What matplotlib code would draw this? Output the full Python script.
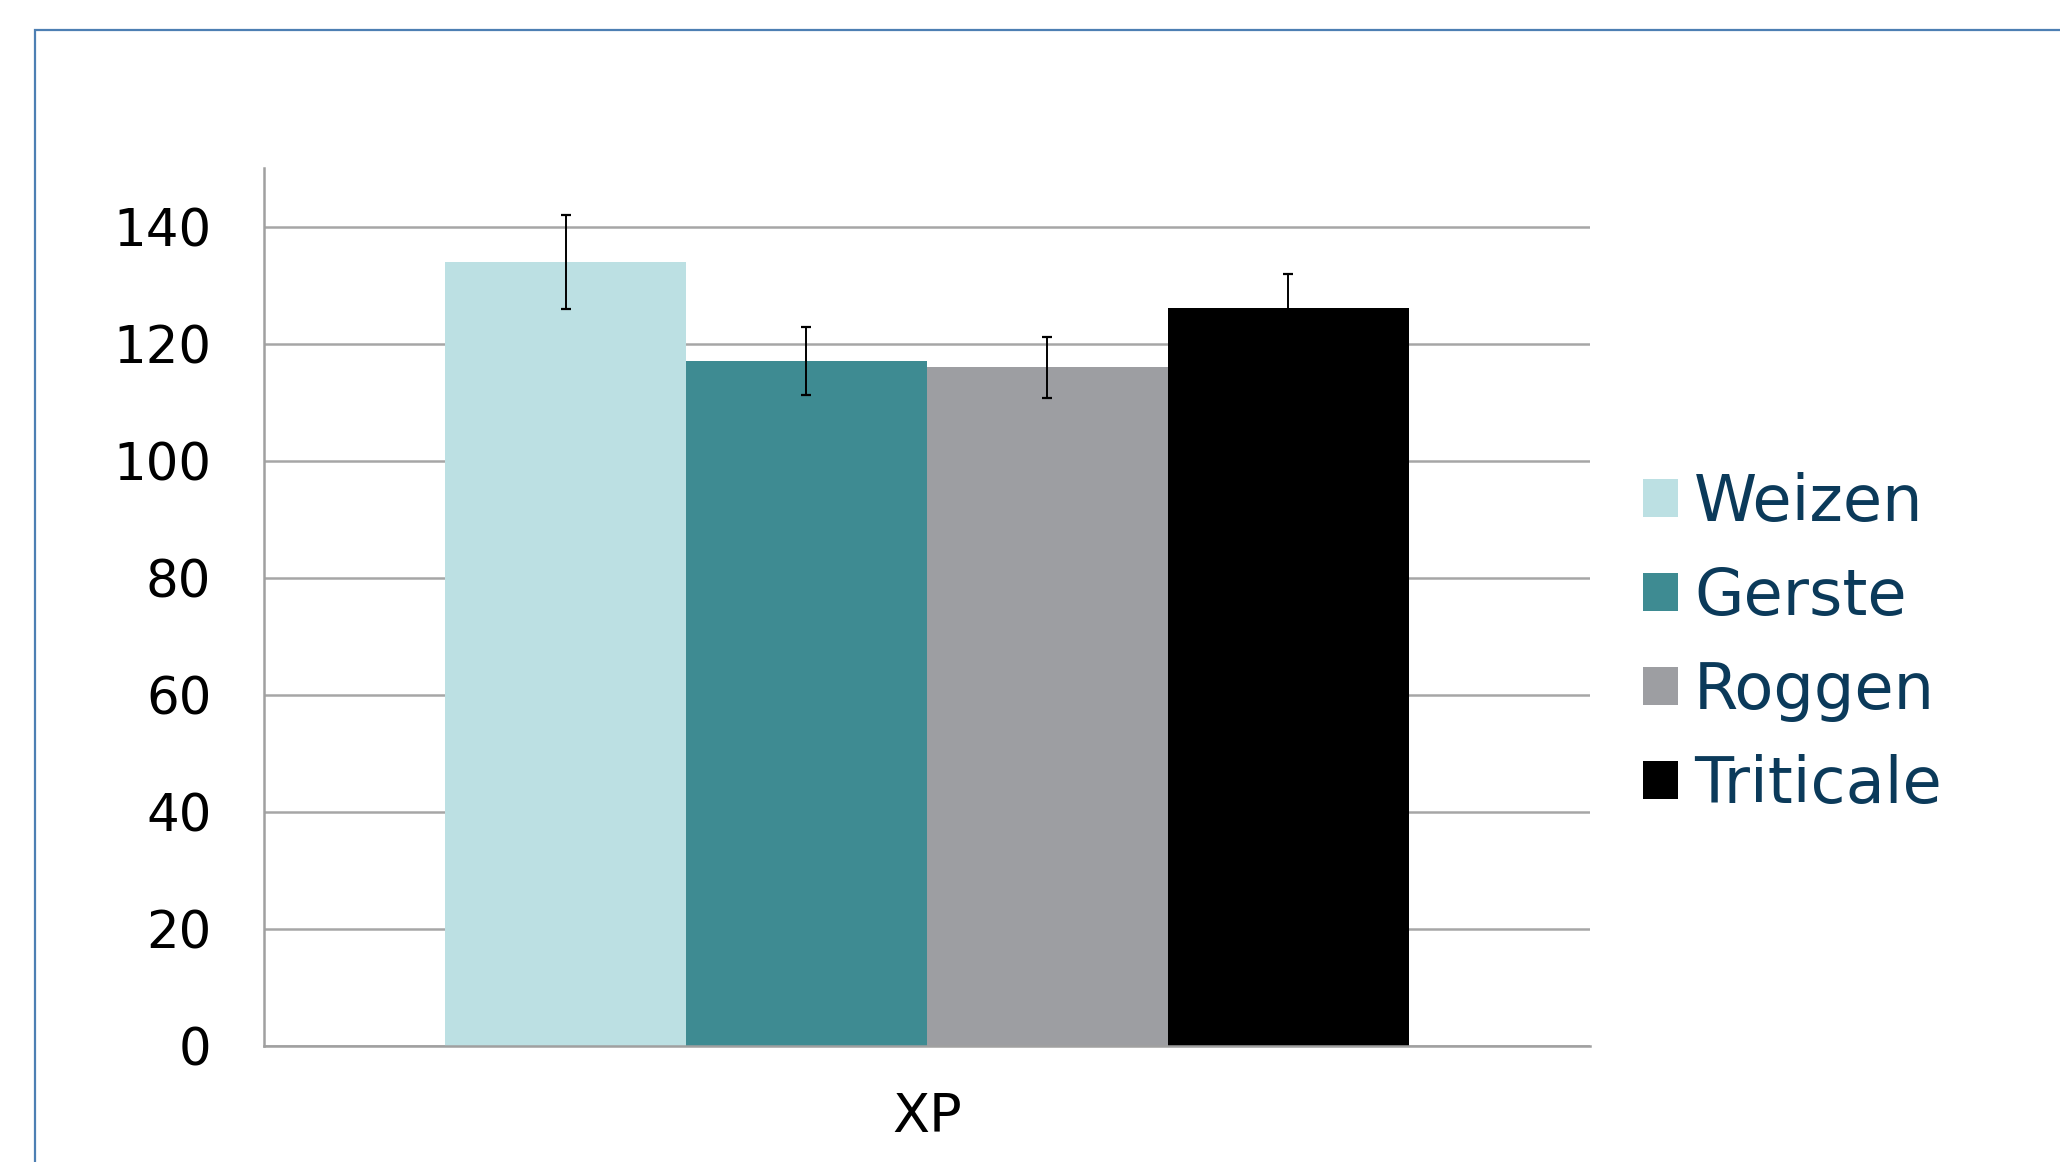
import matplotlib
matplotlib.use("Agg")
import matplotlib.pyplot as plt
from matplotlib.patches import Rectangle, Patch
import numpy as np

# data
categories = ["XP"]
series = ["Weizen", "Gerste", "Roggen", "Triticale"]
values = [134.0, 117.0, 116.0, 126.1]
errors = [8.1, 5.8, 5.2, 5.9]
colors = ["#bce0e3", "#3e8b92", "#9d9ea2", "#000000"]
yticks = [0, 20, 40, 60, 80, 100, 120, 140]

plt.rcParams['font.family'] = ['DejaVu Sans']

fig = plt.figure(figsize=(20.6, 11.62), dpi=100)
ax = fig.add_axes([0.1282, 0.0995, 0.6435, 0.7557])

# blue frame around the chart area (cut off at right and bottom)
fig.patches.append(Rectangle((0.0172, -0.1), 1.2, 1.074, transform=fig.transFigure,
                             fill=False, edgecolor="#4d7fb3", linewidth=1.6))

group_width = 0.727
bar_w = group_width / len(series)
offsets = (np.arange(len(series)) - (len(series) - 1) / 2) * bar_w

for i, name in enumerate(series):
    ax.bar(offsets[i], values[i], width=bar_w, color=colors[i], label=name, zorder=2)
    ax.errorbar(offsets[i], values[i], yerr=errors[i], fmt='none', ecolor="black",
                elinewidth=1.4, capsize=3.8, capthick=1.6, zorder=3)

ax.set_xlim(-0.5, 0.5)
ax.set_ylim(0, 150)
ax.set_yticks(yticks)
ax.set_xticks([0])
ax.set_xticklabels(categories)
ax.tick_params(axis='y', length=0, pad=38, labelsize=37)
ax.tick_params(axis='x', length=0, pad=32, labelsize=39)

ax.grid(axis='y', color="#a6a6a6", linewidth=1.8, zorder=0)
ax.set_axisbelow(True)
for s in ["top", "right"]:
    ax.spines[s].set_visible(False)
for s in ["left", "bottom"]:
    ax.spines[s].set_color("#a0a0a0")
    ax.spines[s].set_linewidth(1.8)

handles = [Patch(facecolor=c, edgecolor='none') for c in colors]
leg = fig.legend(handles, series, loc='center left', bbox_to_anchor=(0.785, 0.446),
                 frameon=False, fontsize=46, handlelength=0.555, handleheight=0.55,
                 handletextpad=0.25, labelspacing=0.5, borderaxespad=0)
for t in leg.get_texts():
    t.set_color("#0b3a5a")

fig.savefig("out.png", dpi=100)
